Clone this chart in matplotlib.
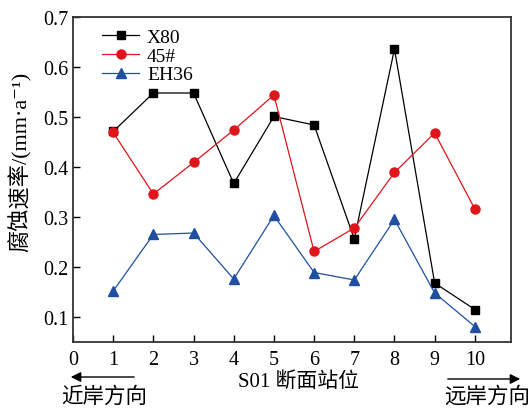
import numpy as np
import matplotlib.pyplot as plt
from matplotlib.patches import FancyArrowPatch

plt.rcParams['font.family'] = ['Liberation Serif', 'Noto Sans CJK SC', 'DejaVu Serif']

# estaciones y velocidades de corrosion
estaciones = np.arange(1, 11)
x80 = [0.471, 0.548, 0.548, 0.367, 0.501, 0.484, 0.256, 0.636, 0.168, 0.115]
acero45 = [0.469, 0.346, 0.409, 0.474, 0.544, 0.231, 0.278, 0.389, 0.468, 0.316]
eh36 = [0.152, 0.265, 0.268, 0.176, 0.303, 0.189, 0.174, 0.295, 0.148, 0.081]

fig = plt.figure(figsize=(5.31, 4.10), dpi=100)
ax = fig.add_axes([73/531, 1-343/410, (511-73)/531, (343-18)/410])

ax.plot(estaciones, x80, 's-', color='black', lw=0.9, ms=5.5, label='X80')
ax.plot(estaciones, acero45, 'o-', color='#e0151b', lw=0.9, ms=6.5, label='45#')
ax.plot(estaciones, eh36, '^-', color='#1f4fa0', lw=0.9, ms=6.5, label='EH36')

ax.set_xlim(0, 10.9)
ax.set_ylim(0.05, 0.7)
ax.set_xticks(range(0, 11))
ax.set_yticks([0.1, 0.2, 0.3, 0.4, 0.5, 0.6, 0.7])
ax.tick_params(direction='in', labelsize=14.5, length=5, width=1)
ax.tick_params(axis='x', pad=6)
for s in ax.spines.values():
    s.set_linewidth(1.3)
    s.set_color('#333333')

ax.set_ylabel('腐蚀速率/(mm·a⁻¹)', fontsize=16, va='center')
ax.yaxis.set_label_coords(-0.121, 0.557)
ax.set_xlabel('S01 断面站位', fontsize=15, va='center')
ax.xaxis.set_label_coords(0.514, -0.12)

ax.legend(loc='upper left', frameon=False, fontsize=14, handlelength=1.9,
          handletextpad=0.4, labelspacing=0.05, borderaxespad=0.2,
          bbox_to_anchor=(0.04, 1.0))

# flechas de direccion
fig.patches.append(FancyArrowPatch(
    (137/531, 1-378/410), (68/531, 1-378/410), transform=fig.transFigure,
    arrowstyle='-|>,head_length=6,head_width=3', color='black', lw=1))
fig.patches.append(FancyArrowPatch(
    (445/531, 1-380/410), (523/531, 1-380/410), transform=fig.transFigure,
    arrowstyle='-|>,head_length=6,head_width=3', color='black', lw=1))
fig.text(104/531, 1-397/410, '近岸方向', fontsize=15.5, ha='center', va='center')
fig.text(487/531, 1-397/410, '远岸方向', fontsize=15.5, ha='center', va='center')

plt.savefig('out.png', dpi=100)
